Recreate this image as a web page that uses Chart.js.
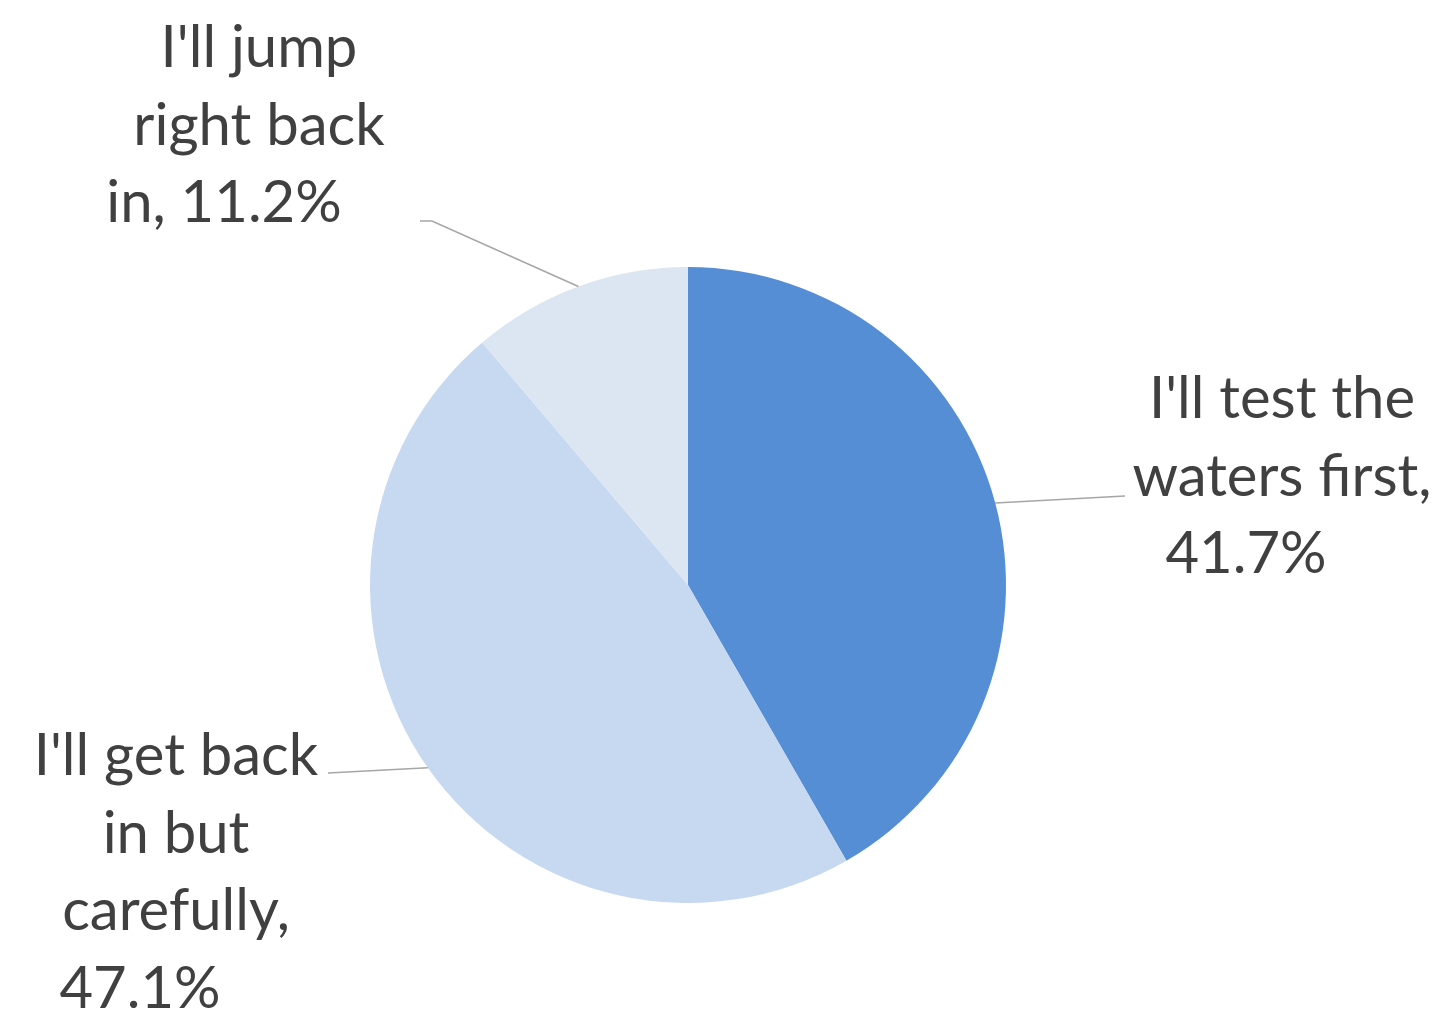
<!DOCTYPE html>
<html>
<head>
<meta charset="utf-8">
<title>Getting back in</title>
<script src="https://cdn.jsdelivr.net/npm/chart.js@4.4.1/dist/chart.umd.min.js"></script>
<style>
  html, body { margin: 0; padding: 0; background: #fff; }
  #wrap { width: 1446px; height: 1014px; position: relative; }
</style>
</head>
<body>
<div id="wrap"><canvas id="pie"></canvas></div>
<script>
// answers, in drawing order (clockwise from 12 o'clock)
const categories = ["I'll test the waters first", "I'll get back in but carefully", "I'll jump right back in"]
const shares = [41.7, 47.1, 11.2]
const colors = ["#558ED5", "#C6D9F1", "#DCE6F2"]

// how each label is wrapped, where its block sits and where its leader line stops
const labelLines = [
    ["I'll test the", "waters first,"],
    ["I'll get back", "in but", "carefully,"],
    ["I'll jump", "right back", "in,"]
]
const labelBoxes = [
    { cx: 1282, top: 418, lastShift: -36, lineEnd: [1125, 496], elbow: null },
    { cx: 176, top: 775, lastShift: -36, lineEnd: [328, 773], elbow: null },
    { cx: 259, top: 67, lastShift: -35, lineEnd: [420, 221], elbow: [432, 221] }
]

const FONT = "58px Lato, 'Open Sans', sans-serif"
const LINE_H = 77.5

const pieLabels = {
    id: 'pieLabels',
    afterDatasetsDraw(chart) {
        const ctx = chart.ctx
        const arcs = chart.getDatasetMeta(0).data
        ctx.save()
        arcs.forEach((arc, i) => {
            const p = arc.getProps(['x', 'y', 'startAngle', 'endAngle', 'outerRadius'], true)
            const mid = (p.startAngle + p.endAngle) / 2
            const ex = p.x + Math.cos(mid) * p.outerRadius
            const ey = p.y + Math.sin(mid) * p.outerRadius
            const box = labelBoxes[i]

            // leader line
            ctx.strokeStyle = '#A6A6A6'
            ctx.lineWidth = 1.5
            ctx.beginPath()
            ctx.moveTo(ex, ey)
            if (box.elbow) ctx.lineTo(box.elbow[0], box.elbow[1])
            ctx.lineTo(box.lineEnd[0], box.lineEnd[1])
            ctx.stroke()

            // text block
            ctx.fillStyle = '#404040'
            ctx.font = FONT
            ctx.textAlign = 'center'
            ctx.textBaseline = 'alphabetic'
            const lines = labelLines[i].slice()
            const value = shares[i].toFixed(1) + '%'
            let last
            if (i === 2) {
                lines[lines.length - 1] = lines[lines.length - 1] + ' ' + value
                last = lines.length - 1
            } else {
                lines.push(value)
                last = lines.length - 1
            }
            lines.forEach((txt, k) => {
                const x = box.cx + (k === last ? box.lastShift : 0)
                ctx.fillText(txt, x, box.top + k * LINE_H)
            })
        })
        ctx.restore()
    }
}

new Chart(document.getElementById('pie'), {
    type: 'pie',
    data: {
        labels: categories,
        datasets: [{
            data: shares,
            backgroundColor: colors,
            borderWidth: 0
        }]
    },
    options: {
        responsive: true,
        maintainAspectRatio: false,
        animation: false,
        layout: {
            padding: { left: 370, right: 440, top: 267, bottom: 111 }
        },
        plugins: {
            legend: { display: false },
            tooltip: { enabled: false }
        }
    },
    plugins: [pieLabels]
})
</script>
</body>
</html>
